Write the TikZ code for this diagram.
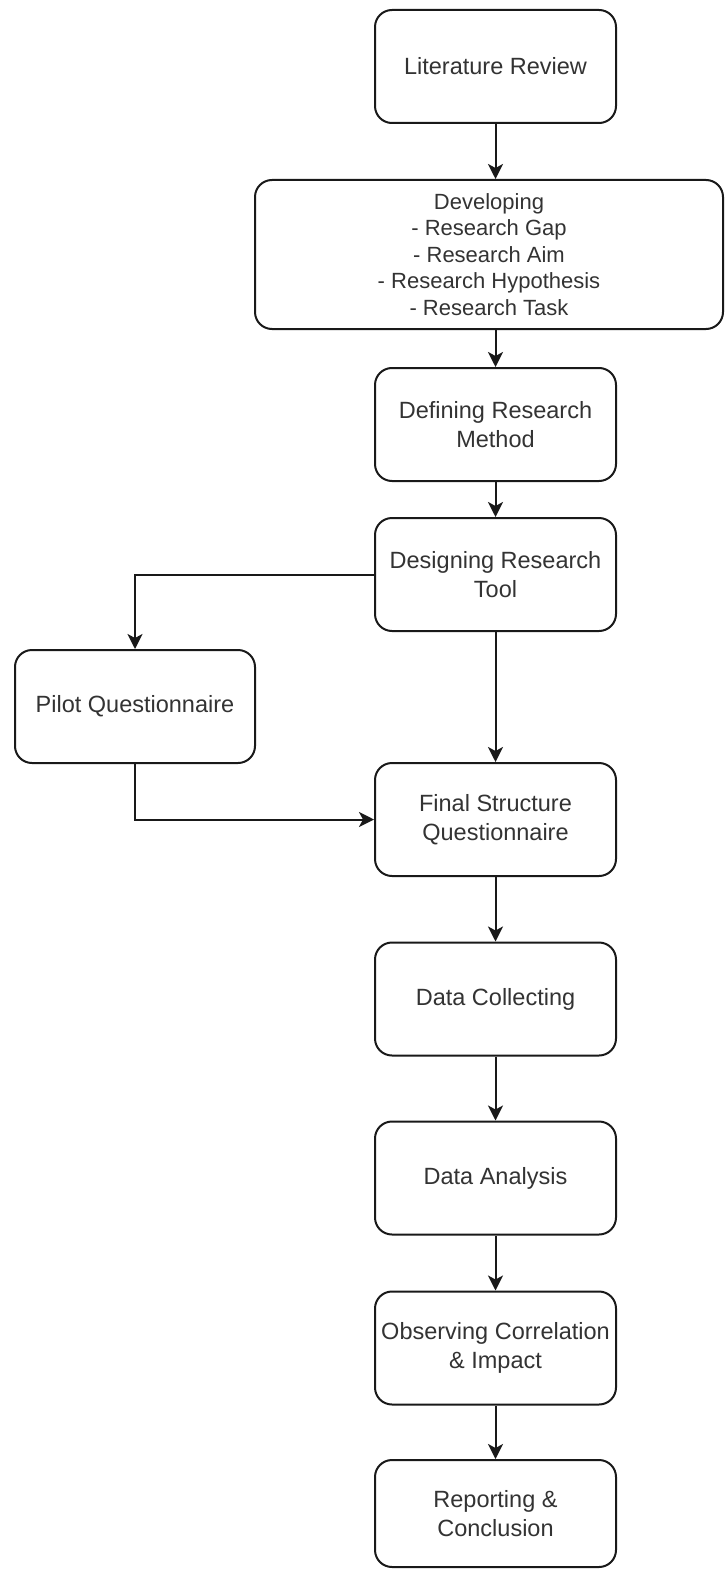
\documentclass[tikz,border=0pt]{standalone}
\usepackage{fontspec}
\setmainfont{Liberation Sans}
\usetikzlibrary{arrows.meta}
\tikzset{
  box/.style={draw=black!90, line width=2pt, rounded corners=17pt, fill=white,
    text=black!80, align=center, minimum width=241pt, minimum height=113pt,
    inner sep=0pt, font=\fontsize{23.5}{28.5}\selectfont},
  conn/.style={draw=black!90, line width=2pt, -{Stealth[length=15pt,width=15pt,inset=4pt]}},
}
\begin{document}
\begin{tikzpicture}[x=1pt,y=-1pt]
\useasboundingbox[fill=white] (0,0) rectangle (725,1570);
\node[box] (lit) at (495.5,66.5) {Literature Review};
\node[box, minimum width=468pt, minimum height=149pt, font=\fontsize{22}{26.6}\selectfont] (dev) at (489,254.5)
  {Developing\\- Research Gap\\- Research Aim\\- Research Hypothesis\\- Research Task};
\node[box] (def) at (495.5,424.5) {Defining Research\\Method};
\node[box] (des) at (495.5,574.5) {Designing Research\\Tool};
\node[box, minimum width=240pt] (pil) at (135,706.5) {Pilot Questionnaire};
\node[box] (fin) at (495.5,819.5) {Final Structure\\Questionnaire};
\node[box] (col) at (495.5,999) {Data Collecting};
\node[box] (ana) at (495.5,1178) {Data Analysis};
\node[box] (obs) at (495.5,1348) {Observing Correlation\\\& Impact};
\node[box, minimum height=107pt] (rep) at (495.5,1513.5) {Reporting \&\\Conclusion};

\draw[conn] (lit.south) -- (lit.south |- dev.north);
\draw[conn] (lit.south |- dev.south) -- (def.north);
\draw[conn] (def.south) -- (des.north);
\draw[conn] (des.west) -| (pil.north);
\draw[conn] (des.south) -- (fin.north);
\draw[conn] (pil.south) |- (fin.west);
\draw[conn] (fin.south) -- (col.north);
\draw[conn] (col.south) -- (ana.north);
\draw[conn] (ana.south) -- (obs.north);
\draw[conn] (obs.south) -- (rep.north);
\end{tikzpicture}
\end{document}
